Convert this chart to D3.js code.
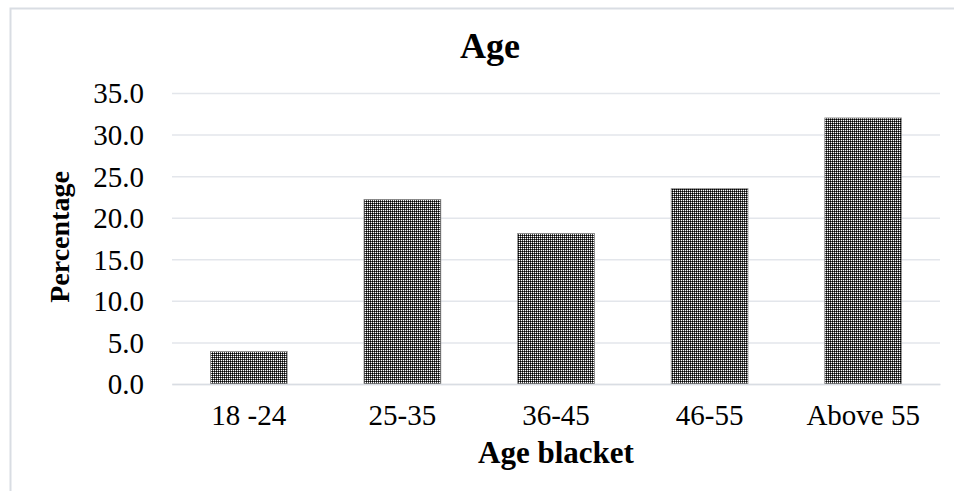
<!DOCTYPE html>
<html>
<head>
<meta charset="utf-8">
<script src="https://cdn.jsdelivr.net/npm/d3@7"></script>
<style>
  body { margin: 0; background: #fff; }
  text { font-family: "Liberation Serif", "Times New Roman", serif; fill: #000; }
</style>
</head>
<body>
<div id="chart"></div>
<script>
// Data
const categories = ["18 -24", "25-35", "36-45", "46-55", "Above 55"];
const percentages = [3.9, 22.2, 18.1, 23.5, 32.0];
const yTicks = [0, 5, 10, 15, 20, 25, 30, 35];

const W = 954, H = 491;
const margin = { top: 93, right: 14, bottom: 107, left: 172 },
    width = W - margin.left - margin.right,
    height = H - margin.top - margin.bottom;

const svg = d3.select("#chart")
    .append("svg")
    .attr("width", W)
    .attr("height", H);

// Fill pattern for the bars (dotted grid)
const defs = svg.append("defs");
const pat = defs.append("pattern")
    .attr("id", "dots")
    .attr("patternUnits", "userSpaceOnUse")
    .attr("width", 4)
    .attr("height", 4);
pat.append("rect").attr("width", 4).attr("height", 4).attr("fill", "#4a4a4a");
[[0, 0], [2, 0], [0, 2], [2, 2]].forEach(p =>
    pat.append("rect").attr("x", p[0]).attr("y", p[1]).attr("width", 1).attr("height", 1).attr("fill", "#000"));
[[1, 1], [3, 1], [1, 3], [3, 3]].forEach(p =>
    pat.append("rect").attr("x", p[0]).attr("y", p[1]).attr("width", 1).attr("height", 1).attr("fill", "#fff"));

// Chart border (runs off the right and bottom)
svg.append("rect")
    .attr("x", 10.5).attr("y", 8.5)
    .attr("width", W + 20).attr("height", H + 20)
    .attr("fill", "none")
    .attr("stroke", "#d9dde3")
    .attr("stroke-width", 2);

const g = svg.append("g")
    .attr("transform", `translate(${margin.left}, ${margin.top})`);

const x = d3.scaleBand()
    .domain(categories)
    .range([0, width])
    .paddingInner(0.5)
    .paddingOuter(0.25);

const y = d3.scaleLinear()
    .domain([0, 35])
    .range([height, 0]);

// Gridlines
g.append("g")
    .call(d3.axisLeft(y).tickValues(yTicks).tickSize(-width).tickFormat(""))
    .call(s => s.select(".domain").remove())
    .selectAll(".tick line")
    .attr("stroke", "#e3e6eb")
    .attr("stroke-width", 1.5);

// Y tick labels
g.append("g")
    .call(d3.axisLeft(y).tickValues(yTicks).tickSize(0).tickPadding(28).tickFormat(d3.format(".1f")))
    .call(s => s.select(".domain").remove())
    .selectAll("text")
    .style("font-family", "Liberation Serif, serif")
    .style("font-size", "29px")
    .attr("dy", "0.34em");

// Bars
g.selectAll(".bar")
    .data(percentages)
    .join("rect")
    .attr("class", "bar")
    .attr("x", (d, i) => x(categories[i]))
    .attr("y", d => y(d))
    .attr("width", x.bandwidth())
    .attr("height", d => height - y(d))
    .attr("fill", "url(#dots)")
    .attr("stroke", "#8a8a8a")
    .attr("stroke-width", 0.8);

// X axis
const xAxis = g.append("g")
    .attr("transform", `translate(0, ${height})`)
    .call(d3.axisBottom(x).tickSize(0).tickPadding(20));
xAxis.select(".domain").attr("stroke", "#d9dde3").attr("stroke-width", 1.5);
xAxis.selectAll("text")
    .style("font-family", "Liberation Serif, serif")
    .style("font-size", "29px");

// Title
svg.append("text")
    .attr("x", 490)
    .attr("y", 58)
    .attr("text-anchor", "middle")
    .style("font-size", "36px")
    .style("font-weight", "bold")
    .text("Age");

// Axis titles
svg.append("text")
    .attr("x", margin.left + width / 2)
    .attr("y", 463)
    .attr("text-anchor", "middle")
    .style("font-size", "31px")
    .style("font-weight", "bold")
    .text("Age blacket");

svg.append("text")
    .attr("transform", "translate(69, 237) rotate(-90)")
    .attr("text-anchor", "middle")
    .style("font-size", "28px")
    .style("font-weight", "bold")
    .text("Percentage");
</script>
</body>
</html>
